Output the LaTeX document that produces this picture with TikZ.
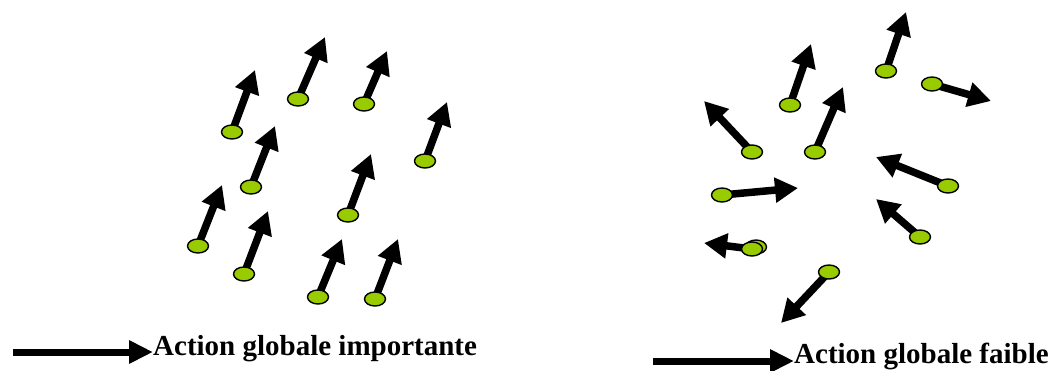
\documentclass[tikz,border=0pt]{standalone}
\usepackage{fontspec}
\setmainfont{Liberation Serif}
\usetikzlibrary{arrows.meta,shapes.geometric,backgrounds}
\definecolor{dotgreen}{RGB}{153,204,0}
\tikzset{
  dot/.style={ellipse,draw=black,line width=1.4pt,fill=dotgreen,minimum width=21pt,minimum height=14pt,inner sep=0pt},
  vec/.style={line width=7.5pt,-{Triangle[length=23pt,width=24pt]}},
  legendarrow/.style={line width=7pt,-{Triangle[length=24pt,width=22pt]}},
  legendtext/.style={font=\fontsize{29}{30}\selectfont\bfseries,inner sep=0pt,anchor=base west}
}
\begin{document}
\begin{tikzpicture}[x=1pt,y=-1pt]
\useasboundingbox (0,0) rectangle (1056,370);
% left cluster dots
\node[dot] (l1) at (232,132) {};
\node[dot] (l2) at (298,99) {};
\node[dot] (l3) at (364,104) {};
\node[dot] (l4) at (425,161) {};
\node[dot] (l5) at (251,187) {};
\node[dot] (l6) at (348,215) {};
\node[dot] (l7) at (198,246) {};
\node[dot] (l8) at (244,274) {};
\node[dot] (l9) at (318,297) {};
\node[dot] (l10) at (375,299) {};
% right cluster dots
\node[dot] (ra) at (790,105) {};
\node[dot] (rb) at (886,71) {};
\node[dot] (rc) at (932,84) {};
\node[dot] (rd) at (752,152) {};
\node[dot] (re) at (815,152) {};
\node[dot] (rf) at (722,195) {};
\node[dot] (rg) at (948,186) {};
\node[dot] (rh) at (920,237) {};
\node[dot] (ri2) at (756,247) {};
\node[dot] (ri) at (752,249) {};
\node[dot] (rj) at (829,272) {};
% arrow tips
\coordinate (tl1) at (255,70);
\coordinate (tl2) at (325,37);
\coordinate (tl3) at (387,51);
\coordinate (tl4) at (447,102);
\coordinate (tl5) at (275,126);
\coordinate (tl6) at (371,154);
\coordinate (tl7) at (222,185);
\coordinate (tl8) at (268,211);
\coordinate (tl9) at (342,239);
\coordinate (tl10) at (398,239);
\coordinate (tra) at (811,44);
\coordinate (trb) at (906,12);
\coordinate (trc) at (991,101);
\coordinate (trd) at (704,101);
\coordinate (tre) at (843,87);
\coordinate (trf) at (798,188);
\coordinate (trg) at (876,157);
\coordinate (trh) at (876,199);
\coordinate (tri) at (704,243);
\coordinate (trj) at (781,323);
\begin{scope}[on background layer]
\foreach \n in {l1,l2,l3,l4,l5,l6,l7,l8,l9,l10,ra,rb,rc,rd,re,rf,rg,rh,ri,rj}
  \draw[vec] (\n.center) -- (t\n);
\end{scope}
% legend
\coordinate (la) at (13,352);
\node[legendtext] (lt) at (153,355) {Action globale importante};
\draw[legendarrow] (la) -- (lt.base west |- la);
\coordinate (ra0) at (653,361);
\node[legendtext] (rt) at (794,363) {Action globale faible};
\draw[legendarrow] (ra0) -- (rt.base west |- ra0);
\end{tikzpicture}
\end{document}
